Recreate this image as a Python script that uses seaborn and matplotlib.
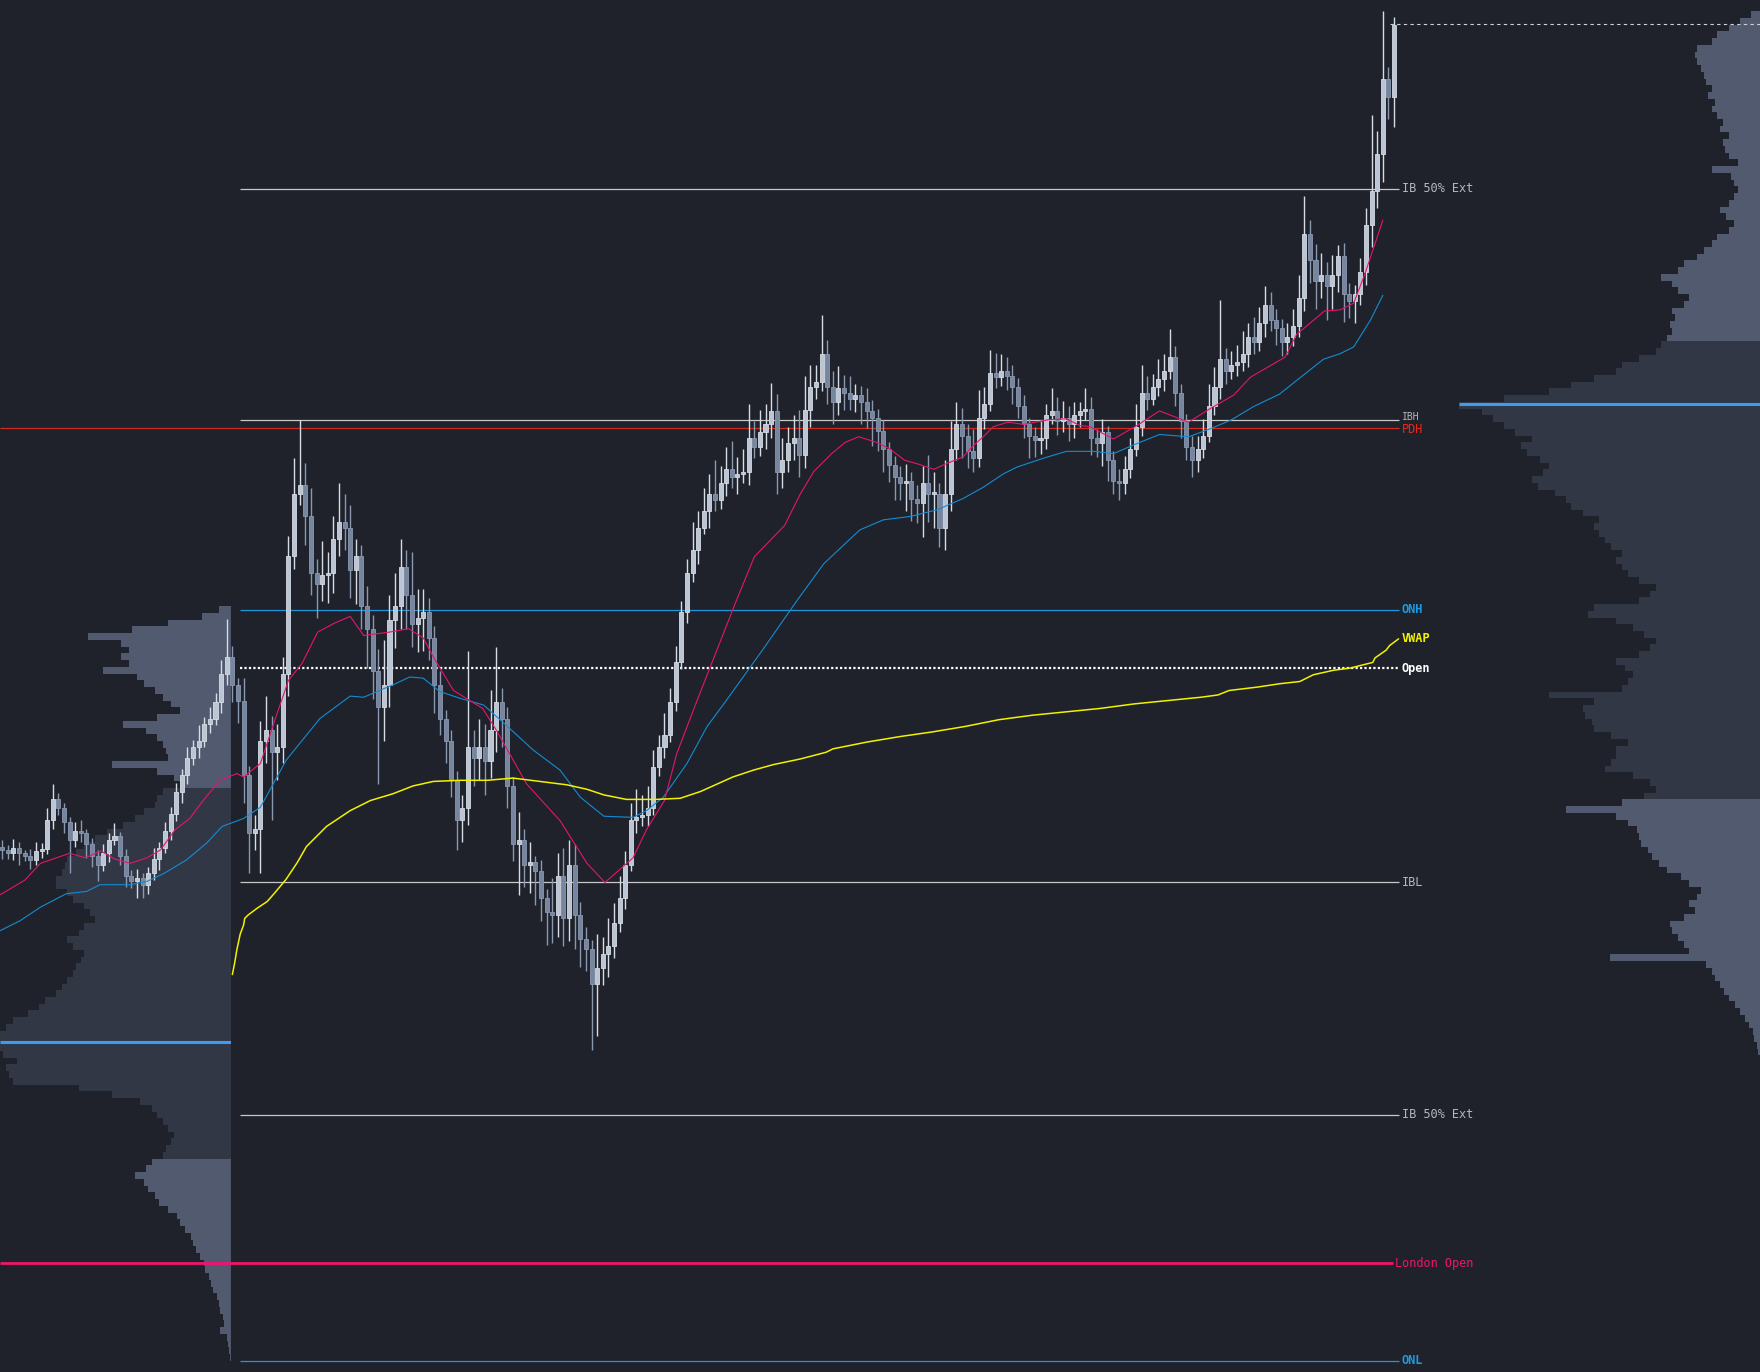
import matplotlib
matplotlib.use("Agg")
import numpy as np
import pandas as pd
import matplotlib.pyplot as plt
import seaborn as sns

# ---------------- data (price units, arbitrary scale) ----------------
first_open = 468
close = [
    465, 462, 467, 462, 460, 456, 464, 466, 492, 510,
    502, 490, 474, 482, 480, 470, 460, 452, 462, 474,
    477, 460, 442, 437, 440, 434, 444, 457, 467, 482,
    497, 517, 532, 547, 557, 562, 577, 582, 597, 622,
    637, 612, 598, 532, 480, 484, 562, 572, 552, 557,
    622, 727, 782, 790, 762, 712, 702, 710, 712, 742,
    757, 752, 714, 727, 682, 662, 624, 592, 612, 670,
    682, 717, 692, 666, 672, 677, 654, 612, 582, 562,
    527, 492, 502, 557, 547, 557, 544, 572, 597, 582,
    522, 470, 474, 452, 454, 446, 422, 410, 407, 442,
    404, 452, 407, 386, 377, 346, 360, 372, 379, 400,
    422, 452, 492, 494, 496, 502, 539, 557, 567, 597,
    632, 677, 712, 732, 752, 767, 782, 777, 792, 804,
    797, 800, 802, 832, 824, 837, 844, 856, 802, 812,
    827, 832, 817, 857, 877, 882, 907, 877, 864, 876,
    872, 867, 870, 864, 856, 850, 838, 822, 808, 797,
    792, 794, 778, 774, 792, 782, 782, 752, 782, 822,
    844, 834, 820, 814, 850, 862, 890, 886, 892, 887,
    877, 860, 844, 834, 830, 832, 852, 856, 847, 850,
    844, 852, 856, 858, 832, 827, 837, 812, 794, 792,
    804, 822, 842, 872, 867, 877, 884, 892, 904, 872,
    847, 824, 812, 822, 834, 860, 877, 902, 892, 897,
    900, 907, 922, 917, 934, 950, 937, 930, 917, 922,
    932, 957, 1014, 990, 972, 977, 967, 977, 994, 960,
    954, 960, 980, 1022, 1052, 1085, 1152, 1136, 1200,
]
upper_wick = [
    6, 4, 8, 5, 3, 6, 8, 5, 10, 14,
    6, 5, 4, 8, 10, 4, 6, 5, 8, 6,
    12, 4, 6, 5, 8, 4, 6, 10, 5, 8,
    6, 8, 5, 10, 6, 14, 6, 10, 8, 12,
    34, 10, 6, 20, 8, 12, 18, 30, 12, 20,
    15, 18, 32, 58, 20, 25, 12, 30, 18, 20,
    35, 25, 20, 15, 10, 18, 12, 20, 40, 22,
    30, 25, 15, 38, 25, 20, 12, 10, 12, 8,
    10, 8, 12, 85, 15, 25, 20, 35, 49, 12,
    10, 8, 25, 10, 18, 6, 10, 8, 30, 20,
    25, 22, 18, 12, 10, 8, 30, 15, 25, 18,
    20, 12, 15, 25, 18, 20, 15, 10, 20, 12,
    15, 10, 12, 25, 15, 20, 18, 30, 15, 20,
    25, 15, 20, 30, 15, 20, 18, 25, 15, 20,
    15, 20, 25, 30, 20, 15, 34, 12, 15, 20,
    12, 15, 10, 8, 12, 10, 8, 10, 6, 8,
    10, 15, 8, 12, 15, 25, 20, 10, 30, 25,
    20, 15, 10, 20, 25, 15, 20, 18, 15, 12,
    10, 8, 10, 6, 8, 15, 10, 20, 12, 15,
    10, 12, 8, 18, 10, 8, 12, 6, 8, 10,
    12, 10, 20, 25, 15, 12, 18, 15, 25, 10,
    8, 6, 10, 12, 15, 20, 18, 53, 10, 12,
    15, 20, 12, 18, 15, 17, 12, 10, 8, 12,
    15, 20, 33, 12, 15, 20, 12, 18, 10, 12,
    10, 8, 12, 15, 68, 20, 60, 10, 7,
]
lower_wick = [
    8, 5, 6, 10, 5, 8, 4, 6, 5, 8,
    6, 10, 30, 6, 8, 12, 10, 15, 6, 8,
    5, 8, 10, 6, 15, 12, 8, 6, 10, 5,
    8, 6, 10, 8, 6, 10, 5, 8, 6, 10,
    10, 15, 20, 25, 36, 15, 40, 20, 60, 25,
    15, 20, 12, 10, 25, 20, 30, 15, 25, 18,
    15, 20, 25, 30, 20, 35, 25, 68, 30, 20,
    25, 20, 30, 20, 25, 30, 20, 25, 15, 20,
    15, 27, 20, 15, 25, 20, 30, 15, 20, 25,
    20, 15, 45, 20, 25, 30, 20, 30, 25, 20,
    25, 20, 30, 25, 20, 59, 47, 15, 20, 10,
    8, 10, 6, 12, 8, 10, 6, 8, 10, 6,
    8, 6, 10, 8, 12, 6, 15, 10, 8, 12,
    10, 15, 8, 12, 10, 8, 15, 12, 20, 15,
    10, 15, 20, 12, 15, 10, 8, 15, 20, 12,
    15, 10, 12, 20, 15, 25, 18, 20, 15, 20,
    15, 25, 20, 18, 30, 25, 30, 17, 20, 15,
    10, 20, 15, 12, 8, 10, 6, 10, 8, 12,
    15, 10, 12, 20, 15, 12, 10, 8, 12, 10,
    15, 12, 10, 8, 15, 12, 20, 18, 12, 15,
    10, 8, 6, 8, 10, 6, 8, 10, 8, 12,
    15, 12, 15, 10, 8, 6, 8, 10, 12, 8,
    10, 8, 12, 10, 8, 12, 10, 15, 12, 10,
    8, 10, 12, 20, 25, 15, 30, 20, 15, 25,
    15, 20, 10, 12, 20, 15, 25, 20, 27,
]

# indicator lines (bar index, price)
ema_fast_x = [-0.4, 4, 6.8, 12, 14.8, 17.6, 20, 22.8, 25.8, 28.2, 30.8, 33.4, 35.8, 38.8,
              41.8, 43, 46, 48.6, 51, 53.4, 56.2, 59.2, 62, 64.4, 69, 72.4, 75, 76.8, 80.4,
              85.6, 88, 93.4, 99.4, 104.2, 107.4, 112.4, 114.8, 118, 120.2, 123.8, 130.8,
              134, 139.4, 142.2, 144.6, 147.8, 150.2, 152.6, 155.8, 158.2, 160.8, 163, 166,
              168.2, 171.2, 172.8, 174.8, 176.6, 179.2, 182, 186.2, 189.6, 192, 193.8, 198,
              202.2, 206.2, 211.4, 215.2, 219.4, 222.4, 228.6, 230.6, 235.6, 238.4, 240.8,
              242.8, 246]
ema_fast = [425, 438, 453, 462, 458, 464, 457, 453, 458, 465, 483, 493, 509, 527,
            533, 530, 542, 581, 616, 631, 659, 667, 673, 656, 659, 662, 654, 637, 607,
            591, 572, 524, 491, 453, 436, 458, 483, 509, 551, 598, 687,
            726, 754, 782, 802, 818, 828, 833, 828, 822, 812, 809, 804,
            809, 815, 824, 833, 842, 846, 844, 848, 849, 843, 842, 831,
            843, 856, 846, 858, 870, 886, 904, 924, 945, 946, 952,
            978, 1026]
ema_slow_x = [-0.4, 3.2, 6.8, 11.4, 15, 17.4, 22.8, 25.8, 28.8, 32.8, 36.4, 39.2, 43, 46,
              50.6, 56.6, 62, 64.4, 69.6, 72.6, 75, 78, 81.6, 85.8, 89.8, 94.6, 99.4, 103,
              107.2, 112.4, 114.8, 117.8, 122, 125.6, 129, 135.6, 141.6, 146.4, 152.8, 157,
              161.8, 166.6, 171.2, 174.8, 178.4, 180.8, 185.6, 189.6, 194.4, 198, 202.2,
              206.2, 211.4, 215.2, 219, 223, 227.6, 230.6, 235.4, 238.4, 240.8, 243.8, 246]
ema_slow = [393, 402, 414, 426, 428, 434, 434, 437, 444, 456, 471, 486, 493, 503,
            545, 582, 602, 601, 612, 619, 618, 606, 600, 594, 576, 554, 536, 512,
            495, 494, 500, 512, 542, 575, 598, 644, 687, 720, 750, 759,
            762, 768, 778, 788, 800, 806, 814, 820, 820, 818, 827,
            835, 833, 840, 848, 860, 871, 883, 902, 907, 913, 937, 959]
vwap_x = [41, 41.4, 41.8, 42.4, 43, 43.2, 43.8, 45.4, 47.2, 48.6, 50.6, 52.6, 54.2, 57.8,
          62, 65.6, 69.6, 73.2, 76.8, 81.6, 86.4, 91, 95.8, 100.6, 104.2, 107.2, 111.2,
          116.6, 120.8, 124.4, 130.2, 133.8, 137.4, 142.2, 146.8, 148, 154, 160, 165.6,
          171.6, 177.6, 183.6, 189.6, 195.6, 201.6, 207.6, 213.6, 216.6, 218.6, 223.6,
          227.6, 231.2, 233.6, 237.2, 240.2, 244.2, 244.6, 246.6, 247.2, 248.8]
vwap = [354, 364, 376, 390, 398, 404, 407, 413, 419, 427, 439, 454, 468, 486,
        500, 509, 515, 522, 526, 527, 527, 529, 526, 523, 519, 514, 510,
        510, 511, 517, 530, 536, 541, 546, 552, 555, 561, 566, 570,
        575, 581, 585, 588, 591, 595, 598, 601, 603, 607, 610,
        613, 615, 621, 625, 627, 632, 636, 643, 647, 653]

# key levels
level_names = ["IB 50% Ext", "IBH", "PDH", "ONH", "Open", "IBL", "IB 50% Ext ", "London Open", "ONL"]
level_prices = [1054, 848, 841, 679, 627, 436, 229, 97, 10]

# volume profiles (rows of 6 price units)
profile_row = 6
left_profile_start = 10
left_volume = [
    1, 2, 3, 4, 10, 6, 7, 10, 11, 13,
    16, 18, 20, 23, 24, 28, 31, 34, 36, 41,
    46, 48, 56, 64, 68, 74, 78, 86, 76, 71,
    61, 58, 54, 51, 56, 61, 66, 71, 81, 106,
    136, 194, 198, 201, 191, 203, 206, 206, 206, 201,
    194, 181, 171, 166, 156, 151, 146, 141, 138, 134,
    131, 141, 146, 136, 131, 121, 126, 131, 141, 146,
    156, 156, 151, 148, 146, 138, 131, 121, 111, 96,
    86, 78, 68, 66, 61, 46, 51, 66, 106, 56,
    58, 61, 66, 76, 96, 66, 46, 54, 61, 68,
    78, 84, 114, 91, 98, 91, 98, 128, 88, 56,
    26, 11,
]
left_value_area = (190, 520)
left_poc = 294
right_profile_start = 282
right_volume = [
    2, 3, 5, 6, 10, 13, 18, 22, 28, 32,
    36, 40, 43, 48, 134, 63, 68, 73, 78, 80,
    68, 58, 63, 56, 53, 63, 70, 83, 90, 96,
    100, 106, 108, 110, 118, 128, 173, 123, 103, 93,
    98, 113, 138, 133, 128, 128, 118, 133, 148, 150,
    156, 158, 148, 188, 123, 118, 113, 120, 128, 108,
    98, 93, 103, 113, 128, 153, 148, 108, 98, 93,
    108, 118, 123, 128, 123, 133, 138, 143, 148, 143,
    158, 168, 173, 183, 198, 203, 193, 188, 196, 208,
    213, 203, 218, 228, 238, 248, 268, 228, 188, 168,
    148, 128, 123, 108, 93, 88, 83, 78, 80, 76,
    78, 68, 63, 73, 78, 88, 73, 68, 56, 50,
    43, 38, 28, 23, 30, 36, 28, 23, 20, 23,
    26, 43, 20, 28, 31, 33, 28, 36, 33, 38,
    43, 40, 46, 43, 48, 50, 53, 56, 58, 56,
    43, 38, 28, 18, 8,
]
right_value_area = (510, 918)
right_poc = 862

# ---------------- styling ----------------
BG = "#1f222a"
sns.set_style("dark", {"axes.facecolor": BG, "figure.facecolor": BG})
plt.rcParams["font.family"] = ["DejaVu Sans Mono", "DejaVu Sans"]

W, H = 1568.0, 1222.0
fig = plt.figure(figsize=(17.6, 13.72), dpi=100)
fig.patch.set_facecolor(BG)

PROF_LIGHT = "#525a70"
PROF_DARK = "#323746"


def draw_profile(ax, start, vols, va, poc, xmax):
    centers = start + profile_row * np.arange(len(vols)) + profile_row / 2
    cols = [PROF_DARK if va[0] <= c - profile_row / 2 < va[1] else PROF_LIGHT for c in centers]
    ax.barh(centers, vols, height=profile_row, left=0, color=cols, linewidth=0)
    ax.hlines(poc, 0, xmax, color="#3c9cf0", linewidth=2.2, zorder=3)
    ax.set_xlim(xmax, 0)
    ax.set_ylim(0, H)
    ax.axis("off")


axl = fig.add_axes([0, 0, 206 / W, 1])
draw_profile(axl, left_profile_start, left_volume, left_value_area, left_poc, 206)
axl.vlines(0.6, left_profile_start, left_profile_start + profile_row * len(left_volume),
           color="#2b2f3a", linewidth=1, linestyles=(0, (1, 1)))
axr = fig.add_axes([1300 / W, 0, 268 / W, 1])
draw_profile(axr, right_profile_start, right_volume, right_value_area, right_poc, 268)

ax = fig.add_axes([0, 0, 1, 1])
ax.set_facecolor("none")
ax.set_xlim(-0.4, (W - 2) / 5)
ax.set_ylim(0, H)
ax.axis("off")

# ---------------- candles ----------------
c = np.array(close, dtype=float)
o = np.concatenate([[first_open], c[:-1]])
hi = np.maximum(o, c) + np.array(upper_wick)
lo = np.minimum(o, c) - np.array(lower_wick)
idx = np.arange(len(c))
bull = c >= o
BULL_F, BULL_E = "#bcc5d3", "#d6dce5"
BEAR_F, BEAR_E = "#76869f", "#8a98b0"

ax.vlines(idx[bull], lo[bull], hi[bull], color=BULL_E, linewidth=1.0, zorder=4)
ax.vlines(idx[~bull], lo[~bull], hi[~bull], color=BEAR_E, linewidth=1.0, zorder=4)
body_h = np.maximum(np.abs(c - o), 1.8)
body_b = np.minimum(o, c)
ax.bar(idx[bull], body_h[bull], bottom=body_b[bull], width=0.72, color=BULL_F,
       edgecolor=BULL_E, linewidth=0.6, zorder=5)
ax.bar(idx[~bull], body_h[~bull], bottom=body_b[~bull], width=0.72, color=BEAR_F,
       edgecolor=BEAR_E, linewidth=0.6, zorder=5)

# ---------------- indicator lines ----------------
sns.lineplot(x=ema_slow_x, y=ema_slow, ax=ax, color="#148cd2", linewidth=0.8, legend=False, zorder=6)
sns.lineplot(x=ema_fast_x, y=ema_fast, ax=ax, color="#e6146e", linewidth=0.8, legend=False, zorder=6)
sns.lineplot(x=vwap_x, y=vwap, ax=ax, color="#f2f200", linewidth=1.1, legend=False, zorder=6)

# ---------------- levels ----------------
x0 = (214 - 2) / 5
x1 = (1246 - 2) / 5
xl = (1249 - 2) / 5
styles = {
    "IB 50% Ext": dict(c="#c8c8c8", lw=0.9, ls="-", tc="#b4b8c0", w="normal", full=False),
    "IBH": dict(c="#c8c8c8", lw=0.9, ls="-", tc="#b4b8c0", w="normal", full=False),
    "PDH": dict(c="#d22a1c", lw=0.9, ls="-", tc="#e8281e", w="normal", full=True),
    "ONH": dict(c="#1e96dc", lw=0.9, ls="-", tc="#1e9be0", w="bold", full=False),
    "Open": dict(c="#ffffff", lw=1.6, ls=(0, (1, 1)), tc="#ffffff", w="bold", full=False),
    "IBL": dict(c="#c8c8c8", lw=0.9, ls="-", tc="#b4b8c0", w="normal", full=False),
    "IB 50% Ext ": dict(c="#c8c8c8", lw=0.9, ls="-", tc="#b4b8c0", w="normal", full=False),
    "London Open": dict(c="#f0146e", lw=2.0, ls="-", tc="#f0146e", w="normal", full=True),
    "ONL": dict(c="#1e96dc", lw=0.9, ls="-", tc="#1e9be0", w="bold", full=False),
}
for name, price in zip(level_names, level_prices):
    st = styles[name]
    start = -0.4 if st["full"] else x0
    end = x1 - 1 if name == "London Open" else x1
    tx = xl - 1.2 if name == "London Open" else xl
    ax.hlines(price, start, end, color=st["c"], linewidth=st["lw"], linestyles=st["ls"], zorder=3)
    va, ty, fs = "center", price, 8.6
    if name == "IBH":
        va, ty, fs = "bottom", price - 1.5, 7.0
    elif name == "PDH":
        va, ty = "top", price + 4.5
    ax.text(tx, ty, name.strip(), color=st["tc"], fontsize=fs, fontweight=st["w"],
            ha="left", va=va, zorder=7)

ax.text(xl, vwap[-1], "VWAP", color="#f2f200", fontsize=8.6, fontweight="bold",
        ha="left", va="center", zorder=7)

# last price marker
ax.hlines(close[-1] + 1, idx[-1] - 0.8, (W - 2) / 5, color="#cfd2d8", linewidth=0.8,
          linestyles=(0, (3, 3)), zorder=7)

fig.savefig("out.png", dpi=100, facecolor=BG)
